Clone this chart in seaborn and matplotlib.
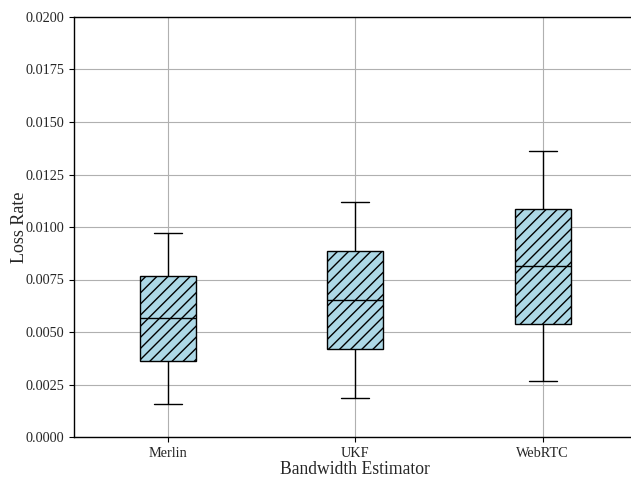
import numpy as np
import pandas as pd
import matplotlib
matplotlib.use("Agg")
import matplotlib.pyplot as plt
import seaborn as sns

categories = ["Merlin", "UKF", "WebRTC"]
whisker_low = [0.00157, 0.00186, 0.00267]
q1 = [0.00362, 0.00419, 0.00538]
median = [0.00567, 0.00652, 0.00814]
q3 = [0.00767, 0.00886, 0.01086]
whisker_high = [0.00971, 0.01119, 0.01362]

rows = []
for i, c in enumerate(categories):
    for v in (whisker_low[i], q1[i], median[i], q3[i], whisker_high[i]):
        rows.append({"Bandwidth Estimator": c, "Loss Rate": v})
df = pd.DataFrame(rows)

sns.set_style("white")
plt.rcParams["font.family"] = ["Liberation Serif", "DejaVu Serif"]
plt.rcParams["hatch.linewidth"] = 1.0

fig = plt.figure(figsize=(6.31, 4.79), dpi=100)
ax = fig.add_axes([74 / 631, 1 - 437 / 479, 562.5 / 631, 420 / 479])

sns.boxplot(data=df, x="Bandwidth Estimator", y="Loss Rate", ax=ax,
            width=0.3, whis=np.inf, color="lightblue", linecolor="black",
            linewidth=1.0, saturation=1)
for patch in ax.patches:
    patch.set_hatch("///")
    patch.set_facecolor("lightblue")
    patch.set_edgecolor("black")

ax.set_xlim(-0.5, 2.5)
ax.set_ylim(0, 0.02)
ticks = np.arange(0, 0.02001, 0.0025)
ax.set_yticks(ticks)
ax.set_yticklabels([f"{v:.4f}" for v in ticks])
ax.grid(True, color="#b0b0b0", linewidth=0.8)
ax.set_axisbelow(True)
for s in ax.spines.values():
    s.set_color("black")
    s.set_linewidth(1.0)
ax.tick_params(axis="both", labelsize=10.3, length=3.5, width=0.8, color="black", direction="out",
               left=True, bottom=True)
ax.set_xlabel("Bandwidth Estimator", fontsize=12.7, labelpad=1)
ax.set_ylabel("Loss Rate", fontsize=13, labelpad=-2)

fig.savefig("out.png", dpi=100)
